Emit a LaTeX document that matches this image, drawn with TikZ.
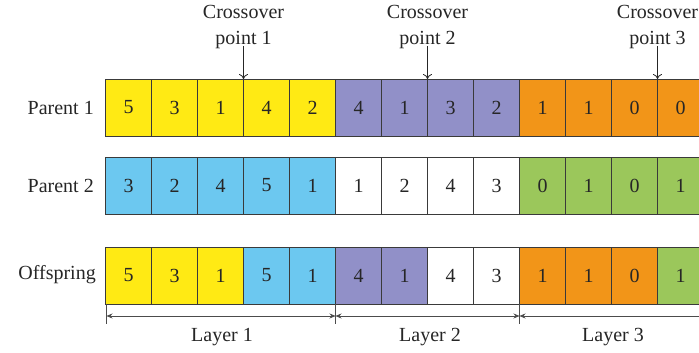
\documentclass[tikz,border=0pt]{standalone}
\usepackage{fontspec}
\setmainfont{Liberation Serif}
\usetikzlibrary{arrows.meta}
\definecolor{cyel}{HTML}{FFEA14}
\definecolor{cpur}{HTML}{9190C8}
\definecolor{cora}{HTML}{F29518}
\definecolor{cblu}{HTML}{6CC8F0}
\definecolor{cgrn}{HTML}{9BC75B}
\definecolor{cwht}{HTML}{FFFFFF}
\definecolor{edge}{HTML}{3A3A3A}
\tikzset{
  gene/.style={draw=edge, line width=0.8pt, minimum width=46pt, minimum height=57pt,
    inner sep=0pt, outer sep=0pt, font=\fontsize{20}{22}\selectfont, text=black!85},
  rowlabel/.style={anchor=east, inner sep=0pt, font=\fontsize{20}{22}\selectfont, text=black!85},
  cplabel/.style={align=center, inner sep=0pt, font=\fontsize{20}{26}\selectfont, text=black!85},
  cparrow/.style={draw=black!85, line width=0.8pt, -{To[length=5pt,width=9pt]}},
  dimline/.style={draw=black!70, line width=0.7pt, {Stealth[length=6pt,width=5pt]}-{Stealth[length=6pt,width=5pt]}},
  dimtick/.style={draw=black!70, line width=0.7pt},
  layerlabel/.style={inner sep=0pt, font=\fontsize{20}{22}\selectfont, text=black!85}
}
\begin{document}
\begin{tikzpicture}[x=1pt, y=-1pt]
\clip (0,0) rectangle (699,353);
\fill[white] (0,0) rectangle (699,353);

% Chromosome rows: name / top edge / gene values with colours
\foreach \r/\ytop/\genes in {
  pa/79/{5/cyel,3/cyel,1/cyel,4/cyel,2/cyel,4/cpur,1/cpur,3/cpur,2/cpur,1/cora,1/cora,0/cora,0/cora},
  pb/157/{3/cblu,2/cblu,4/cblu,5/cblu,1/cblu,1/cwht,2/cwht,4/cwht,3/cwht,0/cgrn,1/cgrn,0/cgrn,1/cgrn},
  os/247/{5/cyel,3/cyel,1/cyel,5/cblu,1/cblu,4/cpur,1/cpur,4/cwht,3/cwht,1/cora,1/cora,0/cora,1/cgrn}}{
  \foreach \v/\c [count=\i] in \genes {
    \node[gene, fill=\c] (\r\i) at ({105.5+46*(\i-1)+23}, {\ytop+28.5}) {\v};
  }
}

% Row labels
\node[rowlabel] (lpa) at (94,108) {Parent 1};
\node[rowlabel] (lpb) at (94,186) {Parent 2};
\node[rowlabel] (los) at (96,275) {Offspring};

% Crossover points
\node[cplabel] (cp1) at (243.5,27) {Crossover\\point 1};
\node[cplabel] (cp2) at (427.5,27) {Crossover\\point 2};
\node[cplabel] (cp3) at (657.5,27) {Crossover\\point 3};
\draw[cparrow] (cp1.south) ++(0,-3) coordinate (cs1) -- (pa3.north east);
\draw[cparrow] (cp2.south) ++(0,-3) coordinate (cs2) -- (pa7.north east);
\draw[cparrow] (cp3.south) ++(0,-3) coordinate (cs3) -- (pa12.north east);

% Layer extents
\coordinate (d0) at ([xshift=1pt]os1.south west);
\coordinate (d1) at (os5.south east);
\coordinate (d2) at (os9.south east);
\coordinate (d3) at (712,304);
\foreach \d in {d0,d1,d2}{
  \draw[dimtick] (\d) -- ++(0,20);
}
\draw[dimline] ([yshift=-12pt]d0) -- ([yshift=-12pt]d1);
\draw[dimline] ([yshift=-12pt]d1) -- ([yshift=-12pt]d2);
\draw[dimline] ([yshift=-12pt]d2) -- ([yshift=-12pt]d3);

\node[layerlabel] (ly1) at (222,337) {Layer 1};
\node[layerlabel] (ly2) at (430,337) {Layer 2};
\node[layerlabel] (ly3) at (613,337) {Layer 3};
\end{tikzpicture}
\end{document}
